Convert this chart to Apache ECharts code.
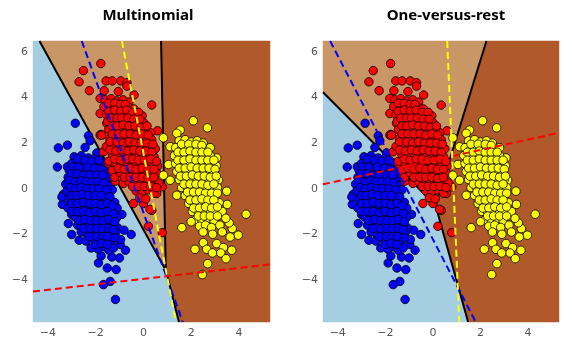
<!DOCTYPE html>
<html>
<head>
<meta charset="utf-8">
<script src="https://cdn.jsdelivr.net/npm/echarts@6/dist/echarts.min.js"></script>
<style>
  html, body { margin: 0; padding: 0; background: #fff; }
  #chart { width: 573px; height: 353px; }
</style>
</head>
<body>
<div id="chart"></div>
<script>
var dom = document.getElementById('chart');
var myChart = echarts.init(dom);

// titles and ticks
var titles = ['Multinomial', 'One-versus-rest'];
var xTicks = [-4, -2, 0, 2, 4];
var yTicks = [-4, -2, 0, 2, 4, 6];
var xRange = [-4.62, 5.3];
var yRange = [-5.85, 6.48];

// points (same data in both panels)
var bluePts = [
  [-2.85, 2.87], [-2.30, 2.32], [-2.44, 1.81], [-2.23, 2.10], [-3.56, 1.79], [-3.18, 1.91], [-3.60, 0.95],
  [-1.95, 1.57], [-3.18, 0.96], [-1.46, 0.59], [-1.53, 0.96], [-3.35, -0.25], [-3.39, -0.69], [-3.0, -1.13],
  [-3.14, -1.53], [-3.0, -2.01], [-2.69, -2.26], [-2.19, -2.6], [-1.88, -3.26], [-1.51, -3.48], [-1.14, -3.55],
  [-1.39, -4.07], [-1.67, -4.21], [-1.17, -4.86], [-1.77, -2.95], [-1.32, -3.0], [-1.0, -3.04], [-0.75, -2.7],
  [-0.97, -2.45], [-0.95, -2.23], [-0.51, -2.01], [-0.81, -1.82], [-1.07, -1.72], [-0.9, -1.13], [-1.26, -1.02],
  [-1.39, -0.51], [-3.41, -0.36],
  [-2.9, 1.4], [-2.6, 1.45], [-2.3, 1.35], [-2.05, 1.3],
  [-3.0, 1.1], [-2.75, 1.15], [-2.5, 1.05], [-2.2, 1.1], [-1.9, 1.0], [-1.7, 1.15],
  [-3.1, 0.8], [-2.85, 0.75], [-2.6, 0.85], [-2.35, 0.7], [-2.1, 0.8], [-1.85, 0.75], [-1.65, 0.7],
  [-3.15, 0.5], [-2.9, 0.45], [-2.7, 0.55], [-2.45, 0.45], [-2.2, 0.5], [-2.0, 0.4], [-1.75, 0.5], [-1.55, 0.35],
  [-3.25, 0.2], [-3.0, 0.15], [-2.8, 0.25], [-2.55, 0.15], [-2.3, 0.2], [-2.05, 0.1], [-1.8, 0.2], [-1.6, 0.1], [-1.4, 0.15],
  [-3.2, -0.1], [-2.95, -0.15], [-2.7, -0.05], [-2.45, -0.15], [-2.2, -0.1], [-1.95, -0.2], [-1.7, -0.1], [-1.5, -0.2], [-1.3, -0.05],
  [-3.1, -0.45], [-2.85, -0.5], [-2.6, -0.4], [-2.35, -0.5], [-2.1, -0.45], [-1.85, -0.55], [-1.6, -0.4], [-1.2, -0.6],
  [-3.15, -0.85], [-2.9, -0.8], [-2.65, -0.9], [-2.4, -0.75], [-2.15, -0.85], [-1.9, -0.8], [-1.65, -0.9], [-1.4, -0.8], [-1.1, -0.85],
  [-2.85, -1.25], [-2.6, -1.15], [-2.35, -1.3], [-2.1, -1.2], [-1.85, -1.25], [-1.6, -1.15], [-1.35, -1.3], [-1.1, -1.25],
  [-2.75, -1.6], [-2.5, -1.5], [-2.25, -1.6], [-2.0, -1.55], [-1.75, -1.6], [-1.5, -1.5], [-1.25, -1.6],
  [-2.6, -1.9], [-2.35, -2.0], [-2.1, -1.85], [-1.85, -1.95], [-1.6, -1.9], [-1.35, -2.0], [-1.15, -1.9],
  [-2.4, -2.3], [-2.1, -2.2], [-1.85, -2.3], [-1.6, -2.25], [-1.35, -2.35], [-1.2, -2.15],
  [-1.9, -2.65], [-1.65, -2.55], [-1.45, -2.7], [-1.25, -2.6],
  [-2.75, 1.3], [-2.45, 1.25], [-2.15, 1.2], [-1.85, 1.25],
  [-2.95, 0.95], [-2.7, 0.95], [-2.35, 0.95], [-2.05, 0.9], [-1.75, 0.85],
  [-3.0, 0.65], [-2.75, 0.65], [-2.5, 0.6], [-2.25, 0.6], [-1.95, 0.6], [-1.7, 0.6],
  [-3.1, 0.35], [-2.85, 0.3], [-2.6, 0.35], [-2.4, 0.3], [-2.15, 0.3], [-1.9, 0.3], [-1.65, 0.25],
  [-3.05, 0.05], [-2.85, 0.0], [-2.6, 0.05], [-2.35, 0.0], [-2.1, 0.0], [-1.85, 0.0], [-1.55, -0.05],
  [-3.0, -0.3], [-2.8, -0.3], [-2.55, -0.25], [-2.3, -0.3], [-2.0, -0.3], [-1.75, -0.3], [-1.4, -0.35],
  [-3.0, -0.65], [-2.75, -0.65], [-2.5, -0.6], [-2.25, -0.65], [-2.0, -0.65], [-1.75, -0.7], [-1.5, -0.65], [-1.3, -0.75],
  [-3.0, -1.0], [-2.75, -1.0], [-2.5, -1.0], [-2.25, -1.05], [-2.0, -1.0], [-1.75, -1.05], [-1.5, -1.0], [-1.25, -1.1],
  [-2.7, -1.4], [-2.45, -1.35], [-2.2, -1.4], [-1.95, -1.4], [-1.7, -1.4], [-1.45, -1.35], [-1.2, -1.45],
  [-2.5, -1.75], [-2.2, -1.75], [-1.95, -1.75], [-1.7, -1.75], [-1.45, -1.75], [-1.25, -1.8],
  [-2.25, -2.1], [-1.95, -2.1], [-1.7, -2.1], [-1.5, -2.1],
  [-2.0, -2.45], [-1.75, -2.4], [-1.5, -2.45]
];
var redPts = [
  [-1.78, 5.49], [-2.51, 5.18], [-2.69, 4.69], [-2.26, 4.3], [-1.56, 4.73], [-1.30, 4.73], [-0.95, 4.73],
  [-0.69, 4.65], [-0.69, 4.5], [0.35, 3.67], [0.59, 2.54], [-1.81, 3.96], [-1.64, 4.3], [-1.81, 2.35],
  [-1.05, 4.26], [-0.39, 4.11], [-1.77, 2.38], [-1.53, 2.87], [-1.49, 3.3], [0, -0.65], [0.35, -0.95],
  [-0.42, -0.65], [0.28, -0.91], [0.21, -1.65], [0.79, -1.93], [0.56, -0.21], [0.79, 0.08], [-1.18, 0.33],
  [-0.84, 0.23], [-1.81, 3.3], [-1.74, 2.35], [-1.67, 1.62], [-1.46, 1.11], [-1.45, 1.2], [-1.3, 0.8], [-1.2, 0.5],
  [-1.6, 3.9], [-1.35, 3.95], [-1.1, 3.85], [-0.85, 3.9], [-0.6, 3.8],
  [-1.65, 3.6], [-1.4, 3.55], [-1.15, 3.65], [-0.9, 3.55], [-0.65, 3.6], [-0.4, 3.5],
  [-1.55, 3.25], [-1.3, 3.3], [-1.05, 3.2], [-0.8, 3.3], [-0.55, 3.25], [-0.3, 3.15], [-0.05, 3.2],
  [-1.5, 2.95], [-1.25, 2.9], [-1.0, 3.0], [-0.75, 2.9], [-0.5, 2.95], [-0.25, 2.85], [0.0, 2.9],
  [-1.45, 2.6], [-1.2, 2.55], [-0.95, 2.65], [-0.7, 2.55], [-0.45, 2.6], [-0.2, 2.5], [0.05, 2.6], [0.3, 2.45],
  [-1.4, 2.2], [-1.15, 2.25], [-0.9, 2.15], [-0.65, 2.25], [-0.4, 2.2], [-0.15, 2.1], [0.1, 2.25], [0.35, 2.15],
  [-1.55, 1.85], [-1.25, 1.9], [-1.0, 1.8], [-0.75, 1.9], [-0.5, 1.8], [-0.25, 1.9], [0.0, 1.8], [0.25, 1.85], [0.5, 1.75],
  [-1.3, 1.5], [-1.05, 1.45], [-0.8, 1.55], [-0.55, 1.45], [-0.3, 1.5], [-0.05, 1.4], [0.2, 1.5], [0.45, 1.4],
  [-1.15, 1.1], [-0.9, 1.05], [-0.65, 1.15], [-0.4, 1.05], [-0.15, 1.1], [0.1, 1.0], [0.35, 1.1], [0.6, 1.0],
  [-0.95, 0.7], [-0.7, 0.65], [-0.45, 0.75], [-0.2, 0.65], [0.05, 0.7], [0.3, 0.6], [0.55, 0.7],
  [-0.6, 0.3], [-0.35, 0.25], [-0.1, 0.35], [0.15, 0.2], [0.4, 0.3], [0.65, 0.25],
  [-0.3, -0.1], [-0.05, -0.15], [0.2, -0.05], [0.45, -0.2],
  [-0.15, -0.4], [0.1, -0.45],
  [-1.45, 3.75], [-1.2, 3.75], [-0.95, 3.7], [-0.75, 3.7],
  [-1.45, 3.4], [-1.2, 3.45], [-0.95, 3.4], [-0.7, 3.45], [-0.45, 3.35], [-0.2, 3.35],
  [-1.35, 3.1], [-1.1, 3.1], [-0.9, 3.1], [-0.65, 3.1], [-0.4, 3.05], [-0.15, 3.05],
  [-1.3, 2.75], [-1.1, 2.75], [-0.85, 2.8], [-0.6, 2.75], [-0.35, 2.75], [-0.1, 2.7], [0.15, 2.75],
  [-1.3, 2.4], [-1.05, 2.4], [-0.8, 2.4], [-0.55, 2.4], [-0.3, 2.35], [-0.05, 2.4], [0.2, 2.35],
  [-1.4, 2.05], [-1.1, 2.05], [-0.85, 2.0], [-0.6, 2.05], [-0.35, 2.0], [-0.1, 2.0], [0.15, 2.0], [0.4, 1.95],
  [-1.4, 1.7], [-1.15, 1.65], [-0.9, 1.7], [-0.65, 1.65], [-0.4, 1.7], [-0.15, 1.65], [0.1, 1.65], [0.35, 1.6],
  [-1.2, 1.3], [-0.95, 1.25], [-0.7, 1.3], [-0.45, 1.3], [-0.2, 1.25], [0.05, 1.25], [0.3, 1.3], [0.55, 1.2],
  [-1.05, 0.9], [-0.8, 0.85], [-0.55, 0.9], [-0.3, 0.85], [-0.05, 0.9], [0.2, 0.85], [0.45, 0.85],
  [-0.8, 0.5], [-0.55, 0.5], [-0.3, 0.5], [-0.05, 0.5], [0.2, 0.45], [0.45, 0.5],
  [-0.45, 0.1], [-0.2, 0.1], [0.05, 0.1], [0.3, 0.1], [0.55, 0.05]
];
var yellowPts = [
  [2.09, 2.98], [2.68, 2.67], [1.54, 2.57], [0.84, 2.23], [1.40, 2.43], [1.12, 1.84], [3.07, 1.35],
  [3.14, 0.37], [3.49, -0.11], [1.05, 1.06], [1.12, 0.37], [0.84, 0.59], [1.40, -0.29], [4.30, -1.12],
  [1.61, -1.71], [2.16, -2.66], [2.51, -2.37], [2.65, -2.66], [3.07, -2.41], [3.35, -2.58], [3.70, -2.70],
  [3.24, -2.82], [2.89, -2.82], [3.46, -3.07], [2.69, -3.29], [2.47, -3.77], [3.97, -2.04], [3.63, -2.12],
  [3.72, -1.75], [3.59, -1.5], [3.51, -0.69], [3.17, -0.61],
  [1.5, 2.1], [1.75, 2.15], [2.0, 2.05], [2.25, 2.1], [2.5, 2.0],
  [1.35, 1.8], [1.6, 1.75], [1.85, 1.85], [2.1, 1.75], [2.35, 1.8], [2.6, 1.7], [2.8, 1.8],
  [1.3, 1.45], [1.55, 1.4], [1.8, 1.5], [2.05, 1.4], [2.3, 1.5], [2.55, 1.4], [2.8, 1.45],
  [1.35, 1.1], [1.6, 1.05], [1.85, 1.15], [2.1, 1.05], [2.35, 1.1], [2.6, 1.0], [2.85, 1.1], [3.05, 1.0],
  [1.4, 0.75], [1.65, 0.7], [1.9, 0.8], [2.15, 0.7], [2.4, 0.75], [2.65, 0.65], [2.9, 0.75],
  [1.5, 0.4], [1.75, 0.35], [2.0, 0.45], [2.25, 0.35], [2.5, 0.4], [2.75, 0.3], [3.0, 0.4],
  [1.6, 0.05], [1.85, 0.0], [2.1, 0.1], [2.35, -0.05], [2.6, 0.05], [2.85, -0.05], [3.1, 0.05],
  [1.75, -0.3], [2.0, -0.35], [2.25, -0.25], [2.5, -0.35], [2.75, -0.3], [3.0, -0.35],
  [1.9, -0.65], [2.15, -0.7], [2.4, -0.6], [2.65, -0.7], [2.9, -0.65],
  [2.05, -1.0], [2.3, -1.05], [2.55, -0.95], [2.8, -1.05], [3.05, -1.0], [3.3, -1.0],
  [2.2, -1.35], [2.45, -1.4], [2.7, -1.3], [2.95, -1.4], [3.45, -1.3],
  [2.0, -1.45], [2.35, -1.65], [2.6, -1.6], [2.85, -1.7], [3.2, -1.6],
  [2.5, -1.9], [2.9, -2.0], [3.3, -1.9],
  [1.6, 1.95], [1.9, 1.95], [2.2, 1.95], [2.45, 1.9],
  [1.45, 1.6], [1.7, 1.6], [1.95, 1.65], [2.2, 1.6], [2.45, 1.6], [2.7, 1.6],
  [1.45, 1.25], [1.7, 1.25], [1.95, 1.3], [2.2, 1.25], [2.45, 1.25], [2.7, 1.25], [2.95, 1.25],
  [1.5, 0.9], [1.75, 0.9], [2.0, 0.95], [2.25, 0.9], [2.5, 0.9], [2.75, 0.9], [3.0, 0.85],
  [1.55, 0.55], [1.8, 0.55], [2.05, 0.6], [2.3, 0.55], [2.55, 0.55], [2.8, 0.5], [3.05, 0.55],
  [1.7, 0.2], [1.95, 0.2], [2.2, 0.2], [2.45, 0.2], [2.7, 0.15], [2.95, 0.2],
  [1.85, -0.15], [2.1, -0.15], [2.35, -0.15], [2.6, -0.2], [2.85, -0.2], [3.1, -0.2],
  [1.95, -0.5], [2.2, -0.5], [2.45, -0.45], [2.7, -0.5], [2.95, -0.5],
  [2.1, -0.85], [2.35, -0.85], [2.6, -0.8], [2.85, -0.85], [3.1, -0.8],
  [2.3, -1.2], [2.55, -1.2], [2.8, -1.2], [3.1, -1.2]
];

// decision regions (blue, tan, brown) as polygons in data units
var multiRegions = [
  [[-4.62, 6.48], [-4.35, 6.48], [0.94, -3.58], [1.49, -5.85], [-4.62, -5.85]],
  [[-4.35, 6.48], [0.74, 6.48], [0.94, -3.58]],
  [[0.74, 6.48], [5.3, 6.48], [5.3, -5.85], [1.49, -5.85], [0.94, -3.58]]
];
var ovrRegions = [
  [[-4.62, 4.23], [0.11, -0.73], [1.48, -5.85], [-4.62, -5.85]],
  [[-4.62, 6.48], [2.25, 6.48], [0.11, -0.73], [-4.62, 4.23]],
  [[2.25, 6.48], [5.3, 6.48], [5.3, -5.85], [1.48, -5.85], [0.11, -0.73]]
];
// region borders
var multiBorders = [
  [[-4.35, 6.48], [0.94, -3.58], [1.49, -5.85]],
  [[0.74, 6.48], [0.94, -3.58]]
];
var ovrBorders = [
  [[-4.62, 4.23], [0.11, -0.73], [1.48, -5.85]],
  [[2.25, 6.48], [0.11, -0.73]]
];
// hyperplanes per class: blue, red, yellow
var multiPlanes = [
  [[-2.58, 6.48], [1.65, -5.85]],
  [[-4.62, -4.51], [5.3, -3.32]],
  [[-0.90, 6.48], [1.36, -5.85]]
];
var ovrPlanes = [
  [[-4.32, 6.48], [1.80, -5.85]],
  [[-4.62, 0.19], [5.3, 2.45]],
  [[0.60, 6.48], [1.11, -5.85]]
];

var regionColors = ['#a6cee3', '#c99766', '#b0592a'];
var classColors = ['#0000ff', '#ff0000', '#ffff00'];

function minus(v) {
  return String(v).replace('-', '\u2212');
}

function axisPair(i) {
  return {
    x: {
      type: 'value', gridIndex: i, min: xRange[0], max: xRange[1],
      axisLine: { show: false },
      splitLine: { show: false },
      axisTick: { show: true, length: 3, customValues: xTicks, lineStyle: { color: '#666' } },
      axisLabel: { customValues: xTicks, formatter: minus, color: '#555', fontSize: 11, fontFamily: 'DejaVu Sans', margin: 6 }
    },
    y: {
      type: 'value', gridIndex: i, min: yRange[0], max: yRange[1],
      axisLine: { show: false },
      splitLine: { show: false },
      axisTick: { show: true, length: 3, customValues: yTicks, lineStyle: { color: '#666' } },
      axisLabel: { customValues: yTicks, formatter: minus, color: '#555', fontSize: 11, fontFamily: 'DejaVu Sans', margin: 5 }
    }
  };
}

function panelSeries(i, regions, borders, planes) {
  var out = [];
  out.push({
    type: 'custom',
    xAxisIndex: i, yAxisIndex: i,
    z: 1,
    silent: true,
    data: regions.map(function (r, k) { return [k]; }),
    renderItem: function (params, api) {
      var poly = regions[params.dataIndex];
      return {
        type: 'polygon',
        shape: { points: poly.map(function (p) { return api.coord(p); }) },
        style: { fill: regionColors[params.dataIndex], stroke: regionColors[params.dataIndex], lineWidth: 0.5 }
      };
    }
  });
  borders.forEach(function (b) {
    out.push({
      type: 'line', xAxisIndex: i, yAxisIndex: i, z: 2,
      data: b, symbol: 'none', silent: true,
      lineStyle: { color: '#000', width: 2 }
    });
  });
  [bluePts, redPts, yellowPts].forEach(function (pts, k) {
    out.push({
      type: 'scatter', xAxisIndex: i, yAxisIndex: i, z: 3,
      data: pts, symbolSize: 8.5,
      itemStyle: { color: classColors[k], borderColor: '#000', borderWidth: 0.8, opacity: 1 }
    });
  });
  planes.forEach(function (p, k) {
    out.push({
      type: 'line', xAxisIndex: i, yAxisIndex: i, z: 4,
      data: p, symbol: 'none', silent: true, clip: true,
      lineStyle: { color: classColors[k], width: 2, type: [7, 4] }
    });
  });
  return out;
}

var ax0 = axisPair(0);
var ax1 = axisPair(1);

var option = {
  animation: false,
  backgroundColor: '#fff',
  title: [
    { text: titles[0], left: 143, top: 3, textAlign: 'center',
      textStyle: { fontSize: 15, fontWeight: 'bold', color: '#000', fontFamily: 'Noto Sans' } },
    { text: titles[1], left: 441, top: 3, textAlign: 'center',
      textStyle: { fontSize: 15, fontWeight: 'bold', color: '#000', fontFamily: 'Noto Sans' } }
  ],
  grid: [
    { left: 33, top: 41, width: 237, height: 281 },
    { left: 323, top: 41, width: 236, height: 281 }
  ],
  xAxis: [ax0.x, ax1.x],
  yAxis: [ax0.y, ax1.y],
  series: panelSeries(0, multiRegions, multiBorders, multiPlanes)
    .concat(panelSeries(1, ovrRegions, ovrBorders, ovrPlanes))
};

myChart.setOption(option);
</script>
</body>
</html>
